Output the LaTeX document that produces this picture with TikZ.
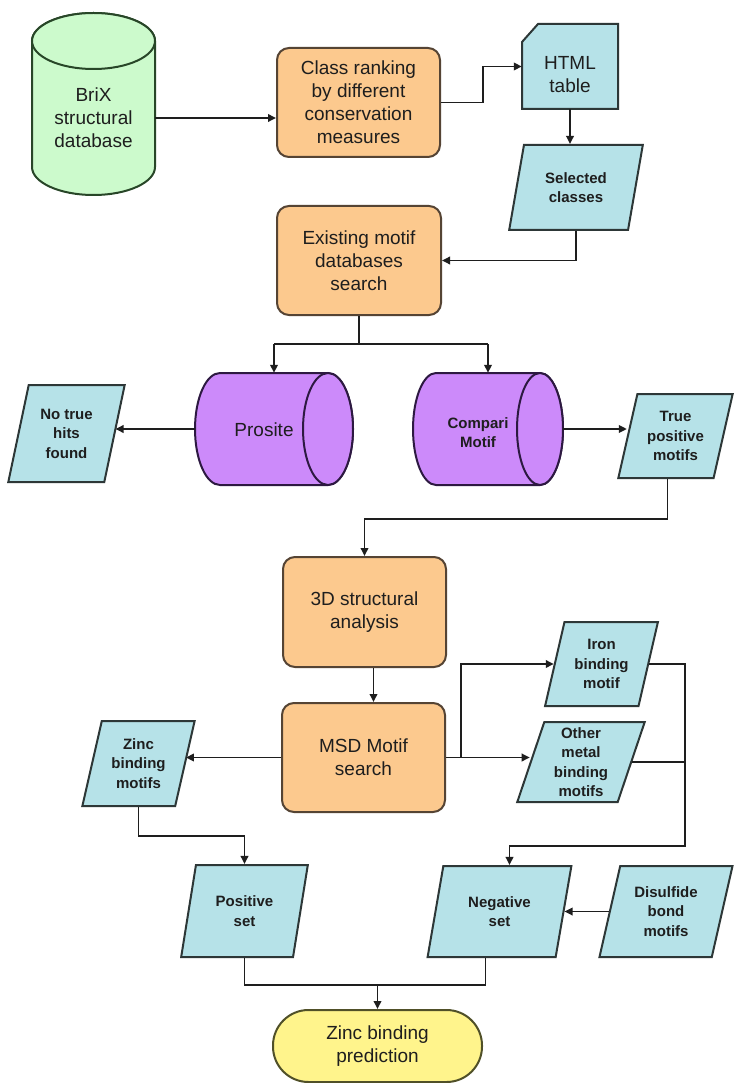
\documentclass[tikz,border=0pt]{standalone}
\usepackage{fontspec}
\setmainfont{Liberation Sans}
\usetikzlibrary{arrows.meta,shapes.geometric}
\definecolor{orfill}{RGB}{252,201,142}
\definecolor{orline}{RGB}{85,68,52}
\definecolor{blfill}{RGB}{182,226,232}
\definecolor{blline}{RGB}{45,55,55}
\definecolor{grfill}{RGB}{204,250,204}
\definecolor{grline}{RGB}{40,70,40}
\definecolor{pufill}{RGB}{204,138,250}
\definecolor{puline}{RGB}{45,25,65}
\definecolor{yefill}{RGB}{255,244,140}
\definecolor{yeline}{RGB}{80,80,40}
\definecolor{ink}{RGB}{30,30,30}
\begin{document}
\begin{tikzpicture}[x=1pt,y=-1pt,
  big/.style={font=\fontsize{19}{23}\selectfont, align=center, text=ink},
  small/.style={font=\bfseries\fontsize{15}{19.5}\selectfont, align=center, text=ink},
  procbox/.style={rectangle, rounded corners=12pt, draw=orline, fill=orfill, line width=2pt, big, inner sep=0pt},
  iobox/.style={trapezium, trapezium left angle=74, trapezium right angle=106, trapezium stretches=true, draw=blline, fill=blfill, line width=2pt, small, inner sep=0pt},
  ghost/.style={rectangle, draw=none, inner sep=0pt},
  cylgreen/.style={draw=grline, fill=grfill, line width=2pt},
  cylpurple/.style={draw=puline, fill=pufill, line width=2pt},
  conn/.style={line width=1.8pt, draw=ink},
  arr/.style={conn, -{Triangle[length=8pt,width=7.5pt]}}
]
\fill[white] (0,0) rectangle (733,1083);
\useasboundingbox (0,0) rectangle (733,1083);

% BriX cylinder
\filldraw[cylgreen] (32,41) -- (32,167) arc[start angle=180,end angle=360,x radius=61.5pt,y radius=28pt] -- (155,41) arc[start angle=0,end angle=180,x radius=61.5pt,y radius=28pt] -- cycle;
\draw[cylgreen] (93.5,41) ellipse[x radius=61.5pt,y radius=28pt];
\node[ghost, big, minimum width=123pt, minimum height=100pt] (brix) at (93.5,118) {BriX\\structural\\database};

% Class ranking
\node[procbox, minimum width=163pt, minimum height=109pt] (class) at (358.5,102.5) {Class ranking\\by different\\conservation\\measures};

% HTML table
\filldraw[draw=blline, fill=blfill, line width=2pt] (538,24) -- (618,24) -- (618,109) -- (522,109) -- (522,42) -- cycle;
\node[ghost, minimum width=96pt, minimum height=85pt] (html) at (570,66.5) {};
\node[big] (htmltxt) at (570,75) {HTML\\table};

% Selected classes
\node[iobox, minimum width=134pt, minimum height=85pt] (sel) at (576,187.5) {Selected\\classes};

% Existing motif databases search
\node[procbox, minimum width=164pt, minimum height=109pt] (exist) at (359,260.5) {Existing motif\\databases\\search};

% Prosite cylinder
\filldraw[cylpurple] (328,373) -- (220,373) arc[start angle=90,end angle=270,x radius=25pt,y radius=56pt] -- (328,485) arc[start angle=-90,end angle=90,x radius=25pt,y radius=56pt] -- cycle;
\draw[cylpurple] (328,429) ellipse[x radius=25pt,y radius=56pt];
\node[ghost, minimum width=158pt, minimum height=112pt] (prosite) at (274,429) {};
\node[big] (prositetxt) at (264,430) {Prosite};

% CompariMotif cylinder
\filldraw[cylpurple] (540,373) -- (436,373) arc[start angle=90,end angle=270,x radius=23pt,y radius=56pt] -- (540,485) arc[start angle=-90,end angle=90,x radius=23pt,y radius=56pt] -- cycle;
\draw[cylpurple] (540,429) ellipse[x radius=23pt,y radius=56pt];
\node[ghost, minimum width=150pt, minimum height=112pt] (compari) at (488,429) {};
\node[small] (comparitxt) at (478,432.5) {Compari\\Motif};

% No true hits / True positive motifs
\node[iobox, minimum width=117pt, minimum height=97pt] (nohits) at (66.5,433.5) {No true\\hits\\found};
\node[iobox, minimum width=115pt, minimum height=84pt] (truepos) at (675.5,436) {True\\positive\\motifs};

% 3D structural analysis
\node[procbox, minimum width=163pt, minimum height=110pt] (d3) at (364.5,612) {3D structural\\analysis};

% MSD Motif search
\node[procbox, minimum width=163pt, minimum height=109pt] (msd) at (363.5,757.5) {MSD Motif\\search};

% Iron / Other / Zinc motifs
\node[iobox, minimum width=113pt, minimum height=84pt] (iron) at (601.5,664) {Iron\\binding\\motif};
\node[iobox, minimum width=128pt, minimum height=80pt] (other) at (581,762) {Other\\metal\\binding\\motifs};
\node[iobox, minimum width=113pt, minimum height=85pt] (zinc) at (138.5,763.5) {Zinc\\binding\\motifs};

% Positive / Negative / Disulfide
\node[iobox, minimum width=127pt, minimum height=92pt] (pos) at (244.5,911) {Positive\\set};
\node[iobox, minimum width=145pt, minimum height=91pt] (neg) at (499.5,911.5) {Negative\\set};
\node[iobox, minimum width=134pt, minimum height=91pt] (dis) at (666,911.5) {Disulfide\\bond\\motifs};

% Zinc binding prediction
\node[rectangle, rounded corners=35.5pt, draw=yeline, fill=yefill, line width=2pt, big, inner sep=0pt, minimum width=209pt, minimum height=72pt] (pred) at (377.5,1046) {Zinc binding\\prediction};

% Connectors
\draw[arr] (brix.east) -- (brix.east -| class.west);
\draw[arr] (class.east) -- ++(42,0) |- (html.west);
\draw[arr] (html.south) -- (html.south |- sel.north);
\draw[arr] (sel.center |- sel.south) |- (exist.east);
\draw[conn] (exist.south) -- ++(0,28) coordinate (split);
\draw[arr] (split -| prosite.north) -- (prosite.north);
\draw[arr] (split -| compari.north) -- (compari.north);
\draw[conn] (split -| prosite.north) -- (split -| compari.north);
\draw[arr] (prosite.west) -- (prosite.west -| nohits.east);
\draw[arr] (compari.east) -- (compari.east -| truepos.west);
\draw[arr] ([xshift=-8pt]truepos.center |- truepos.south) -- ++(0,40) -| (d3.north);
\draw[arr] ([xshift=9pt]d3.south) -- ([xshift=9pt]d3.south |- msd.north);
\draw[arr] (msd.west) -- (msd.west -| zinc.east);
\draw[arr] (msd.east) -- (msd.east -| other.west);
\draw[arr] ([xshift=15pt]msd.east) |- (iron.west);
\draw[arr] (iron.east) -- ++(36,0) coordinate (ij) |- ([xshift=10pt,yshift=19pt]neg.north) -- ([xshift=10pt]neg.north);
\draw[conn] (other.east) -- (other.east -| ij);
\draw[arr] (zinc.center |- zinc.south) -- ++(0,29) -| (pos.center |- pos.north);
\draw[arr] (dis.west) -- (dis.west -| neg.east);
\draw[conn] (pos.center |- pos.south) -- ++(0,27) coordinate (pj) -| ([xshift=-14pt]neg.center |- neg.south);
\draw[arr] (pj -| pred.north) -- (pred.north);
\end{tikzpicture}
\end{document}
